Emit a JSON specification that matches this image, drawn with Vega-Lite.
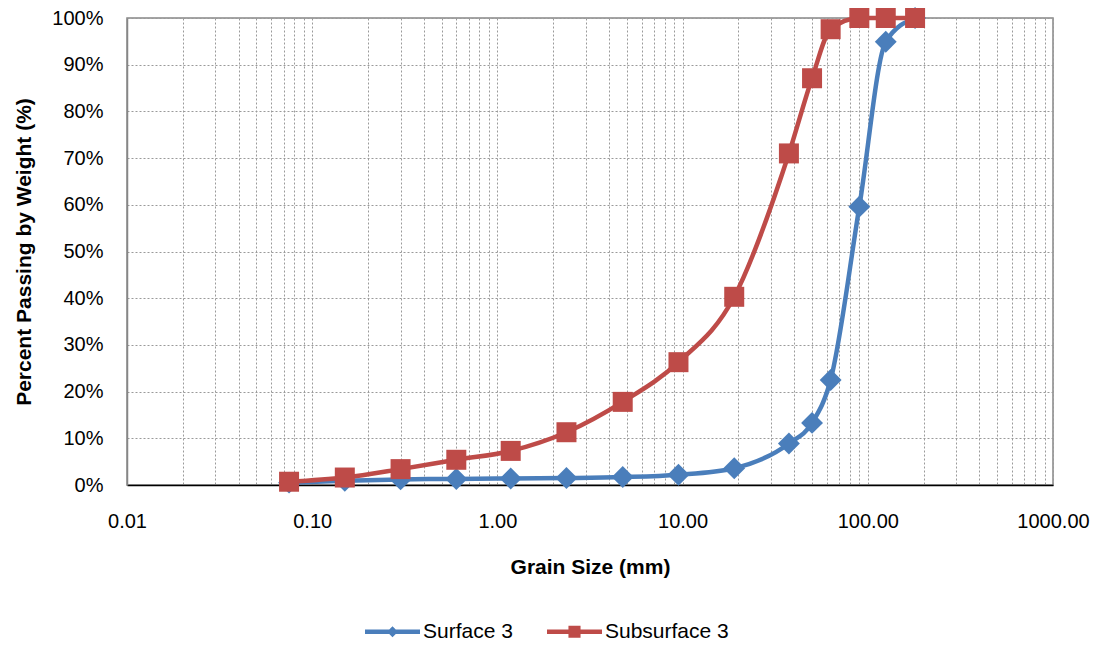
{
  "$schema": "https://vega.github.io/schema/vega-lite/v6.json",
  "width": 926,
  "height": 467,
  "autosize": {"type": "none"},
  "padding": {"left": 127, "top": 18, "right": 48, "bottom": 162},
  "background": "white",
  "config": {
    "font": "Liberation Sans",
    "view": {"stroke": "#868686", "strokeWidth": 1.5},
    "axis": {
      "labelFont": "Liberation Sans",
      "titleFont": "Liberation Sans",
      "labelColor": "black",
      "titleColor": "black",
      "labelFontSize": 20,
      "titleFontSize": 21,
      "titleFontWeight": "bold",
      "gridColor": "#9a9a9a",
      "gridDash": [2, 2],
      "gridWidth": 1,
      "ticks": false
    }
  },
  "data": {
    "values": [
      {"size": 0.075, "pct": 0.5, "series": "Surface 3"},
      {"size": 0.15, "pct": 0.9, "series": "Surface 3"},
      {"size": 0.3, "pct": 1.2, "series": "Surface 3"},
      {"size": 0.6, "pct": 1.3, "series": "Surface 3"},
      {"size": 1.18, "pct": 1.4, "series": "Surface 3"},
      {"size": 2.36, "pct": 1.5, "series": "Surface 3"},
      {"size": 4.75, "pct": 1.7, "series": "Surface 3"},
      {"size": 9.5, "pct": 2.2, "series": "Surface 3"},
      {"size": 19, "pct": 3.6, "series": "Surface 3"},
      {"size": 37.5, "pct": 8.9, "series": "Surface 3"},
      {"size": 50, "pct": 13.3, "series": "Surface 3"},
      {"size": 63, "pct": 22.5, "series": "Surface 3"},
      {"size": 90, "pct": 59.6, "series": "Surface 3"},
      {"size": 125, "pct": 94.9, "series": "Surface 3"},
      {"size": 180, "pct": 100, "series": "Surface 3"},
      {"size": 0.075, "pct": 0.7, "series": "Subsurface 3"},
      {"size": 0.15, "pct": 1.6, "series": "Subsurface 3"},
      {"size": 0.3, "pct": 3.4, "series": "Subsurface 3"},
      {"size": 0.6, "pct": 5.4, "series": "Subsurface 3"},
      {"size": 1.18, "pct": 7.3, "series": "Subsurface 3"},
      {"size": 2.36, "pct": 11.3, "series": "Subsurface 3"},
      {"size": 4.75, "pct": 17.8, "series": "Subsurface 3"},
      {"size": 9.5, "pct": 26.3, "series": "Subsurface 3"},
      {"size": 19, "pct": 40.3, "series": "Subsurface 3"},
      {"size": 37.5, "pct": 71.0, "series": "Subsurface 3"},
      {"size": 50, "pct": 87.1, "series": "Subsurface 3"},
      {"size": 63, "pct": 97.6, "series": "Subsurface 3"},
      {"size": 90, "pct": 100, "series": "Subsurface 3"},
      {"size": 125, "pct": 100, "series": "Subsurface 3"},
      {"size": 180, "pct": 100, "series": "Subsurface 3"}
    ]
  },
  "encoding": {
    "x": {
      "field": "size",
      "type": "quantitative",
      "scale": {"type": "log", "domain": [0.01, 1000], "nice": false},
      "axis": {
        "title": "Grain Size (mm)",
        "values": [0.01, 0.02, 0.03, 0.04, 0.05, 0.06, 0.07, 0.08, 0.09,
                   0.1, 0.2, 0.3, 0.4, 0.5, 0.6, 0.7, 0.8, 0.9,
                   1, 2, 3, 4, 5, 6, 7, 8, 9,
                   10, 20, 30, 40, 50, 60, 70, 80, 90,
                   100, 200, 300, 400, 500, 600, 700, 800, 900, 1000],
        "labelExpr": "abs(log(datum.value)/LN10 - round(log(datum.value)/LN10)) < 0.000001 ? format(datum.value, '.2f') : ''",
        "labelPadding": 26,
        "titlePadding": 25,
        "domainColor": "black",
        "domainWidth": 1.5,
        "labelOverlap": false,
        "labelFlush": false
      }
    },
    "y": {
      "field": "pct",
      "type": "quantitative",
      "scale": {"domain": [0, 100], "nice": false},
      "axis": {
        "title": "Percent Passing by Weight (%)",
        "values": [0, 10, 20, 30, 40, 50, 60, 70, 80, 90, 100],
        "labelExpr": "datum.value + '%'",
        "labelPadding": 24,
        "titlePadding": 17,
        "domainColor": "#868686",
        "domainWidth": 1.5
      }
    }
  },
  "layer": [
    {
      "transform": [{"filter": "datum.series == 'Surface 3'"}],
      "mark": {"type": "line", "interpolate": "monotone", "strokeWidth": 4.5, "strokeCap": "round", "strokeJoin": "round", "color": "#4A7EBB"},
      "encoding": {}
    },
    {
      "transform": [{"filter": "datum.series == 'Surface 3'"}],
      "mark": {"type": "point", "shape": "diamond", "filled": true, "opacity": 1, "size": 480, "color": "#4A7EBB"},
      "encoding": {}
    },
    {
      "transform": [{"filter": "datum.series == 'Subsurface 3'"}],
      "mark": {"type": "line", "interpolate": "monotone", "strokeWidth": 4.5, "strokeCap": "round", "strokeJoin": "round", "color": "#BE4B48"},
      "encoding": {}
    },
    {
      "transform": [{"filter": "datum.series == 'Subsurface 3'"}],
      "mark": {"type": "point", "shape": "square", "filled": true, "opacity": 1, "size": 400, "color": "#BE4B48"},
      "encoding": {}
    },
    {
      "transform": [{"filter": "datum.pct < 0"}],
      "mark": {"type": "point", "filled": true, "opacity": 1},
      "encoding": {
        "color": {
          "field": "series",
          "type": "nominal",
          "scale": {"domain": ["Surface 3", "Subsurface 3"], "range": ["#4A7EBB", "#BE4B48"]},
          "legend": {
            "title": null,
            "orient": "none",
            "direction": "horizontal",
            "legendX": 238,
            "legendY": 586,
            "padding": 0,
            "symbolSize": 3025,
            "symbolStrokeWidth": 0,
            "symbolOpacity": 1,
            "labelFontSize": 21,
            "labelFont": "Liberation Sans",
            "labelColor": "black",
            "labelOffset": 3,
            "columnPadding": 34,
            "labelLimit": 300
          }
        },
        "shape": {
          "field": "series",
          "type": "nominal",
          "scale": {
            "domain": ["Surface 3", "Subsurface 3"],
            "range": [
              "M-1,-0.08L1,-0.08L1,0.08L-1,0.08Z M-0.2,0L0,-0.2L0.2,0L0,0.2Z",
              "M-1,-0.08L1,-0.08L1,0.08L-1,0.08Z M-0.22,-0.22L0.22,-0.22L0.22,0.22L-0.22,0.22Z"
            ]
          },
          "legend": {
            "title": null,
            "orient": "none",
            "direction": "horizontal",
            "legendX": 238,
            "legendY": 586,
            "padding": 0,
            "symbolSize": 3025,
            "symbolStrokeWidth": 0,
            "symbolOpacity": 1,
            "labelFontSize": 21,
            "labelFont": "Liberation Sans",
            "labelColor": "black",
            "labelOffset": 3,
            "columnPadding": 34,
            "labelLimit": 300
          }
        }
      }
    }
  ]
}
